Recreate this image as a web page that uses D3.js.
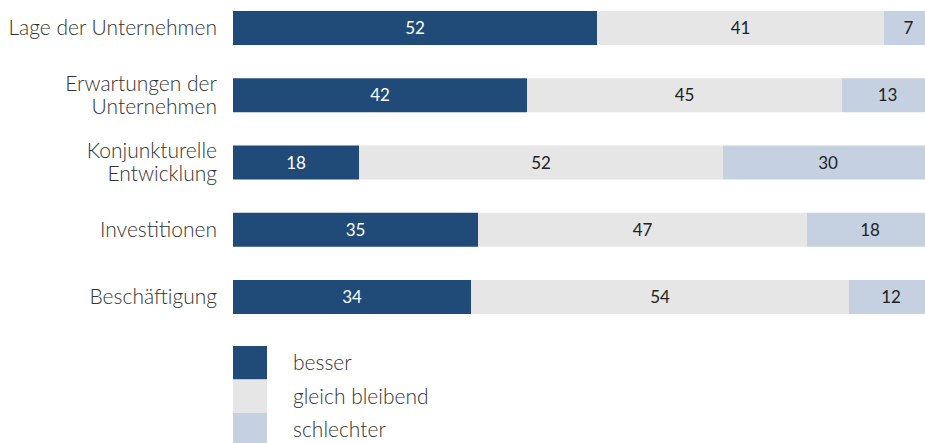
<!DOCTYPE html>
<html><head><meta charset="utf-8">
<script src="https://cdn.jsdelivr.net/npm/d3@7"></script>
<style>
body{margin:0;background:#fff;}
text{font-family:Lato,"Open Sans",sans-serif;}
</style></head>
<body><svg id="c" width="925" height="443"></svg>
<script>
const categories = [["Lage der Unternehmen"],["Erwartungen der","Unternehmen"],["Konjunkturelle","Entwicklung"],["Investitionen"],["Beschäftigung"]];
const besser = [52,42,18,35,34];
const gleich = [41,45,52,47,54];
const schlechter = [7,13,30,18,12];
const seriesNames = ["besser","gleich bleibend","schlechter"];
const colors = ["#204a77","#e6e6e6","#c5d1e0"];
const textColors = ["#ffffff","#222222","#222222"];

const svg = d3.select("#c");
const x = d3.scaleLinear().domain([0,100]).range([233,933]);
const y = d3.scaleBand().domain(d3.range(categories.length)).range([11,314]).paddingInner(0.4944).paddingOuter(0);
const series = [besser,gleich,schlechter];

categories.forEach((cat,i)=>{
  let start=0;
  series.forEach((s,k)=>{
    const v=s[i];
    svg.append("rect").attr("x",x(start)).attr("y",y(i)).attr("width",x(start+v)-x(start)).attr("height",y.bandwidth()).attr("fill",colors[k]);
    svg.append("text").attr("x",(x(start)+x(start+v))/2).attr("y",y(i)+y.bandwidth()/2).attr("dy","0.36em")
      .attr("text-anchor","middle").attr("font-size",17).attr("fill",textColors[k]).text(v);
    start+=v;
  });
  const t = svg.append("text").attr("text-anchor","end").attr("font-size",21).attr("font-weight",300).attr("fill","#333");
  const lh=23, n=cat.length;
  cat.forEach((line,j)=>{
    t.append("tspan").attr("x",217).attr("y",y(i)+y.bandwidth()/2+(j-(n-1)/2)*lh).attr("dy","0.35em").text(line);
  });
});

const ly = d3.scaleBand().domain(d3.range(3)).range([346,446.5]);
seriesNames.forEach((nm,k)=>{
  svg.append("rect").attr("x",233).attr("y",ly(k)).attr("width",34).attr("height",ly.bandwidth()).attr("fill",colors[k]);
  svg.append("text").attr("x",293).attr("y",ly(k)+ly.bandwidth()/2).attr("dy","0.35em").attr("font-size",21).attr("font-weight",300).attr("fill","#333").text(nm);
});
</script></body></html>
